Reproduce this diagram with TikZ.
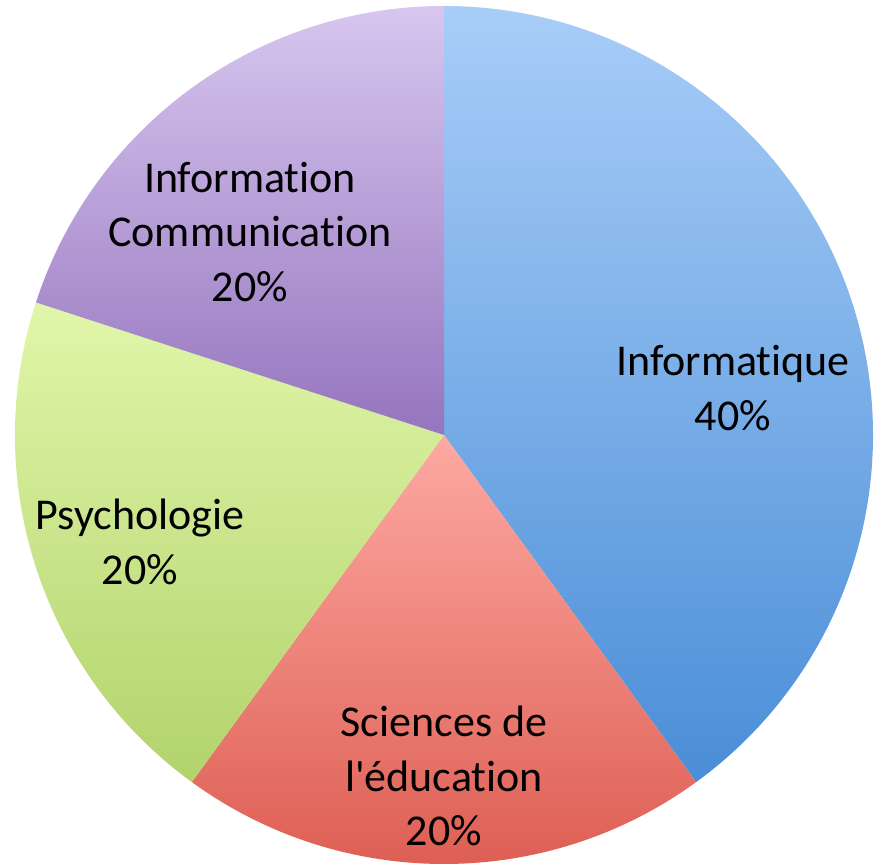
\documentclass[tikz,border=0pt]{standalone}
\usepackage{fontspec}
\setmainfont{Carlito}[Ligatures={NoCommon,TeXOff}]
\definecolor{blueT}{HTML}{A8CDF8}
\definecolor{blueB}{HTML}{4A8ED7}
\definecolor{purpleT}{HTML}{D7C6EF}
\definecolor{purpleB}{HTML}{9575BE}
\definecolor{greenT}{HTML}{E1F6AA}
\definecolor{greenB}{HTML}{B2D36C}
\definecolor{redT}{HTML}{FDA9A2}
\definecolor{redB}{HTML}{DC5A4F}
\begin{document}
\begin{tikzpicture}[x=1pt,y=1pt,
  lab/.style={align=center,font=\fontsize{44}{54.5}\selectfont,text=black,inner sep=0pt}]
\useasboundingbox (0,0) rectangle (877,864);
\fill[white] (0,0) rectangle (877,864);
\coordinate (c) at (444,429);
% Informatique 40%
\path[top color=blueT,bottom color=blueB] (c) -- ++(90:429) arc[start angle=90,end angle=-54,radius=429] -- cycle;
% Sciences de l'education 20%
\path[top color=redT,bottom color=redB] (c) -- ++(-54:429) arc[start angle=-54,end angle=-126,radius=429] -- cycle;
% Psychologie 20%
\path[top color=greenT,bottom color=greenB] (c) -- ++(-126:429) arc[start angle=-126,end angle=-198,radius=429] -- cycle;
% Information Communication 20%
\path[top color=purpleT,bottom color=purpleB] (c) -- ++(162:429) arc[start angle=162,end angle=90,radius=429] -- cycle;
% labels
\node[lab] (lic) at (250,632) {Information\\Communication\\20\%};
\node[lab] (linf) at (733,476) {Informatique\\40\%};
\node[lab] (lpsy) at (140,322) {Psychologie\\20\%};
\node[lab] (lsci) at (444,88) {Sciences de\\l'éducation\\20\%};
\end{tikzpicture}
\end{document}
